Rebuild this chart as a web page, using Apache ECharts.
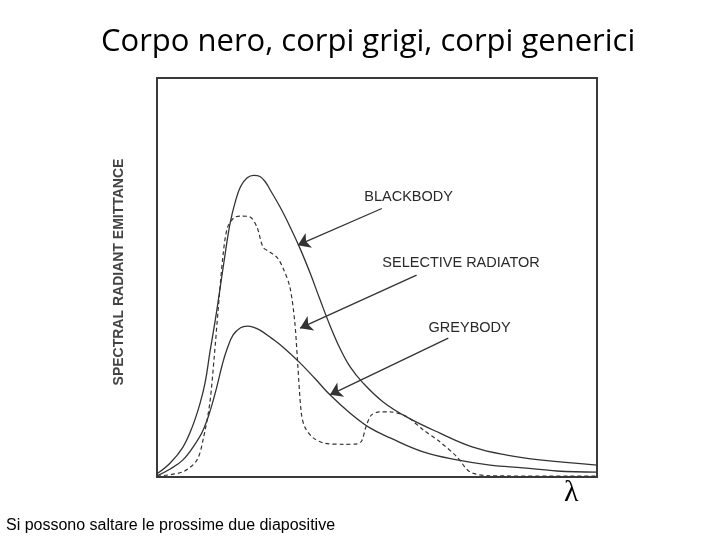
<!DOCTYPE html>
<html><head><meta charset="utf-8">
<script src="https://cdn.jsdelivr.net/npm/echarts@6/dist/echarts.min.js"></script>
<style>html,body{margin:0;padding:0;background:#fff}#c{width:720px;height:540px}</style>
</head><body><div id="c"></div>
<script>
// wavelength (0..100, arbitrary) and spectral radiant emittance (0..100, arbitrary)
const blackbody = [[0,0.8],[3,3.5],[5.9,7.5],[8,12.5],[9.8,18.5],[11,24],[12.0,31.1],[13.2,39],[14.3,47],[15.5,56],[16.6,63.5],[17.8,69],[19,72.8],[20.5,75.0],[22,75.6],[23.4,75.3],[24.6,74.0],[25.7,72.0],[28.0,67.6],[30.2,62.8],[32.5,57.3],[34.8,51.1],[37.0,44.6],[39.3,38.0],[41.6,32.2],[43.9,27.6],[46.8,23.6],[51.4,18.8],[56.8,15.0],[64.3,11.0],[71.8,7.5],[79.5,5.5],[87.0,4.3],[100,3.0]];
const greybody = [[0,0.3],[3,2],[5.9,4.3],[8.5,8],[10.5,11.8],[12.2,17],[13.6,22.6],[14.8,28],[15.9,32.0],[17.3,35.6],[19,37.4],[20.5,37.8],[22,37.5],[23.4,36.8],[26,34.8],[28.6,32.6],[32.5,28.6],[35.8,24.8],[39.3,20.6],[43.9,16.0],[48.4,12.3],[53.0,9.8],[60.5,6.3],[68.2,4.3],[75.7,3.0],[83.2,2.3],[90.9,1.5],[100,1.2]];
const selective = [[0,0.2],[5.9,1.3],[9.1,4.3],[10.6,10],[12.0,18.5],[13.0,30],[13.9,41.9],[15.0,55.5],[16.0,62.5],[17.5,65],[19,65.4],[21.1,65.2],[22.7,62.7],[24.1,57.6],[25.5,56.5],[27.3,55],[28.6,52.5],[30.2,47.6],[31.3,39],[32.0,28],[32.8,16],[33.6,12.5],[35.5,9.8],[38,8.5],[42.3,8.2],[45.5,8.3],[46.5,9],[47.5,12.6],[48.7,15.5],[50.5,16.3],[53.0,16.3],[56.8,15.1],[60.5,11.8],[64.3,8.8],[68.2,5.0],[71.1,1.3],[75.7,0.3],[100,0.2]];
const labels = ['BLACKBODY','SELECTIVE RADIATOR','GREYBODY'];
const labelPos = [[47.0,70.2],[51.1,53.6],[61.6,37.3]];
const arrows = [[[51.1,67.3],[32.0,58.1]],[[59.0,50.6],[32.5,37.3]],[[66.2,34.8],[39.3,20.6]]];
const title = 'Corpo nero, corpi grigi, corpi generici';
const yName = 'SPECTRAL RADIANT EMITTANCE';
const xName = 'λ';
const note = 'Si possono saltare le prossime due diapositive';

const chart = echarts.init(document.getElementById('c'), null, {renderer:'canvas'});
const lineColor = '#333';
chart.setOption({
  animation:false,
  backgroundColor:'#fff',
  title:{text:title,left:96,top:22,textStyle:{fontFamily:'Open Sans',fontWeight:'normal',fontSize:31,color:'#000'}},
  grid:{left:157,top:78,width:440,height:399,show:true,borderColor:'#3a3a3a',borderWidth:2,backgroundColor:'transparent'},
  xAxis:{type:'value',min:0,max:100,axisLine:{show:false},axisTick:{show:false},axisLabel:{show:false},splitLine:{show:false}},
  yAxis:{type:'value',min:0,max:100,axisLine:{show:false},axisTick:{show:false},axisLabel:{show:false},splitLine:{show:false}},
  graphic:[
    {type:'text',x:119,y:272,rotation:Math.PI/2,style:{text:yName,fontFamily:'Liberation Sans',fontWeight:'bold',fontSize:14,fill:'#444',textAlign:'center',textVerticalAlign:'middle'}},
    {type:'text',left:564,top:478,style:{text:xName,fontFamily:'Liberation Serif',fontSize:30,fill:'#000'}},
    {type:'text',left:6,top:518,style:{text:note,fontFamily:'Liberation Sans',fontSize:16,fill:'#000'}}
  ],
  series:[
    {type:'line',data:blackbody,showSymbol:false,smooth:0.4,lineStyle:{color:lineColor,width:1.3},z:3,
      markLine:{silent:true,symbol:['none','arrow'],symbolSize:12,label:{show:false},
        lineStyle:{color:'#333',width:1.3,type:'solid'},
        data:arrows.map(a=>[{coord:a[0]},{coord:a[1]}])},
      markPoint:{silent:true,symbol:'circle',symbolSize:1,itemStyle:{color:'transparent'},
        label:{show:true,position:'right',distance:0,fontFamily:'Liberation Sans',fontSize:14.5,color:'#2a2a2a',formatter:p=>p.name},
        data:labels.map((t,i)=>({name:t,coord:labelPos[i]}))}},
    {type:'line',data:selective,showSymbol:false,smooth:0.3,lineStyle:{color:lineColor,width:1.2,type:[4,3]},z:3},
    {type:'line',data:greybody,showSymbol:false,smooth:0.4,lineStyle:{color:lineColor,width:1.3},z:3}
  ]
});
</script></body></html>
